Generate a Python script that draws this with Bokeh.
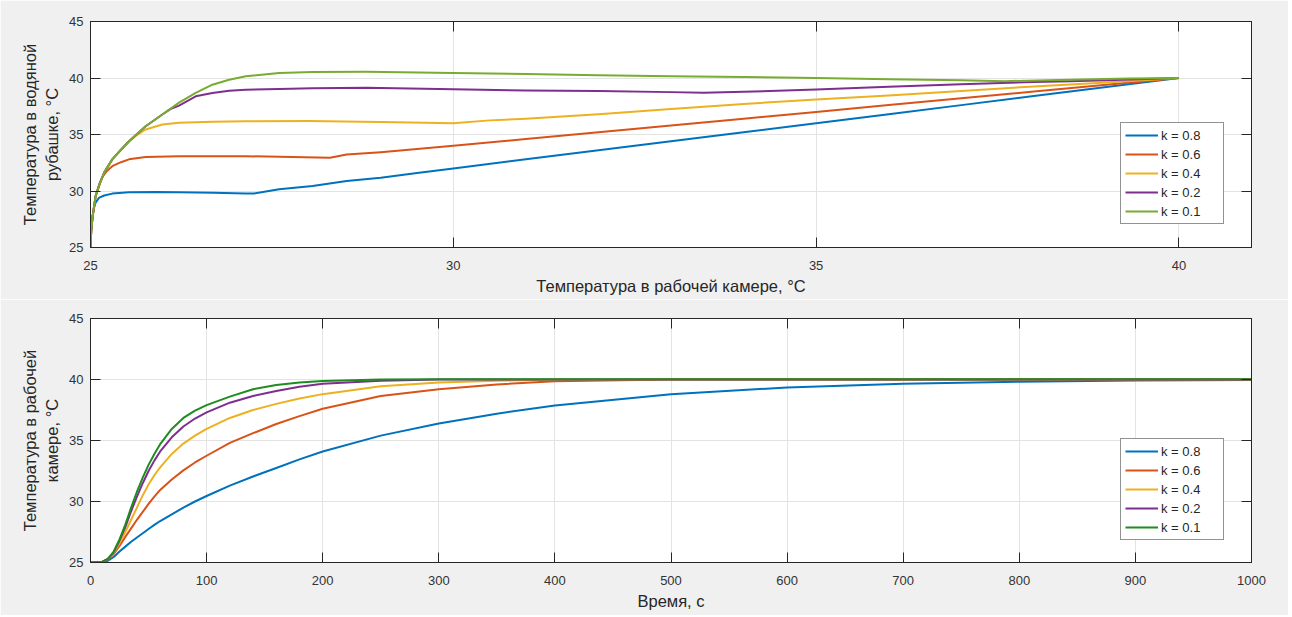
from bokeh.plotting import figure
from bokeh.models import LinearAxis, Legend, LegendItem, FixedTicker
from bokeh.layouts import column
from bokeh.embed import file_html
from bokeh.resources import INLINE

# ---------------- data ----------------
labels = ["k = 0.8", "k = 0.6", "k = 0.4", "k = 0.2", "k = 0.1"]
colors_top = ["#0072BD", "#D95319", "#EDB120", "#7E2F8E", "#77AC30"]
colors_bot = ["#0072BD", "#D95319", "#EDB120", "#7E2F8E", "#1E8C1E"]

# Top: jacket temperature vs chamber temperature
cam_k08 = [25, 25.01, 25.03, 25.05, 25.07, 25.12, 25.19, 25.3, 25.53, 25.9, 26.22, 26.7, 27.14, 27.25, 27.6, 28.06, 28.53, 29, 29.5, 30, 31, 32, 33, 34, 35, 36, 37, 38, 39, 40]
jak_k08 = [25, 26.5, 27.8, 28.55, 28.97, 29.41, 29.6, 29.77, 29.88, 29.92, 29.9, 29.85, 29.78, 29.77, 30.15, 30.44, 30.88, 31.18, 31.6, 32.0, 32.8, 33.6, 34.4, 35.2, 36.0, 36.8, 37.6, 38.4, 39.2, 40]

cam_k06 = [25, 25.01, 25.03, 25.07, 25.12, 25.17, 25.23, 25.3, 25.42, 25.53, 25.76, 26.22, 27.14, 28.3, 28.53, 29, 29.5, 30, 31, 32, 33, 34, 35, 36, 37, 38, 39, 40]
jak_k06 = [25, 26.5, 27.8, 29.5, 30.6, 31.3, 31.8, 32.2, 32.55, 32.8, 33.0, 33.08, 33.08, 32.94, 33.23, 33.44, 33.72, 34.0, 34.6, 35.2, 35.8, 36.4, 37.0, 37.6, 38.2, 38.8, 39.4, 40]

cam_k04 = [25, 25.01, 25.03, 25.07, 25.13, 25.19, 25.3, 25.42, 25.53, 25.64, 25.76, 25.99, 26.22, 26.68, 27.14, 28, 29, 30, 30.5, 31, 32, 33, 34, 35, 36, 37, 38, 39, 40]
jak_k04 = [25, 26.5, 27.8, 29.55, 30.7, 31.65, 32.8, 33.65, 34.35, 34.95, 35.44, 35.88, 36.03, 36.12, 36.17, 36.2, 36.1, 36.0, 36.25, 36.4, 36.8, 37.25, 37.7, 38.1, 38.45, 38.85, 39.25, 39.6, 40]

cam_k02 = [25, 25.01, 25.03, 25.07, 25.13, 25.19, 25.3, 25.42, 25.53, 25.76, 25.99, 26.1, 26.22, 26.45, 26.68, 26.91, 27.14, 27.6, 28.06, 28.8, 30, 31, 32, 33, 33.45, 34, 35, 36, 37, 38, 38.5, 39, 40]
jak_k02 = [25, 26.5, 27.8, 29.55, 30.7, 31.65, 32.8, 33.65, 34.4, 35.73, 36.77, 37.25, 37.56, 38.38, 38.68, 38.88, 38.97, 39.03, 39.1, 39.13, 39.0, 38.9, 38.85, 38.75, 38.7, 38.78, 38.98, 39.22, 39.45, 39.65, 39.72, 39.8, 40]

cam_k01 = [25, 25.01, 25.03, 25.07, 25.13, 25.19, 25.3, 25.42, 25.53, 25.76, 25.99, 26.22, 26.45, 26.68, 26.91, 27.14, 27.6, 28.06, 28.8, 30, 31, 32, 33, 34, 35, 36, 37, 37.6, 38.5, 39.3, 40]
jak_k01 = [25, 26.5, 27.8, 29.55, 30.7, 31.65, 32.8, 33.65, 34.4, 35.73, 36.77, 37.82, 38.68, 39.41, 39.85, 40.15, 40.45, 40.53, 40.55, 40.45, 40.35, 40.25, 40.15, 40.08, 40.0, 39.9, 39.8, 39.72, 39.85, 39.95, 40]

# Bottom: chamber temperature vs time
time_s = [0, 10, 15, 20, 25, 30, 35, 40, 45, 50, 55, 60, 70, 80, 90, 100, 120, 140, 160, 180, 200, 250, 300, 350, 400, 500, 600, 700, 800, 900, 1000]
tc_k08 = [25, 25.03, 25.15, 25.45, 25.9, 26.3, 26.7, 27.05, 27.4, 27.75, 28.08, 28.4, 28.95, 29.5, 30.0, 30.45, 31.3, 32.05, 32.75, 33.45, 34.1, 35.4, 36.4, 37.2, 37.87, 38.8, 39.35, 39.65, 39.82, 39.92, 39.96]
tc_k06 = [25, 25.05, 25.25, 25.7, 26.35, 27.1, 27.8, 28.5, 29.15, 29.8, 30.4, 30.95, 31.8, 32.55, 33.2, 33.75, 34.8, 35.6, 36.35, 37.0, 37.6, 38.65, 39.2, 39.6, 39.85, 40.0, 40.0, 40.0, 40.0, 40.0, 40.0]
tc_k04 = [25, 25.05, 25.28, 25.8, 26.6, 27.5, 28.5, 29.5, 30.5, 31.4, 32.15, 32.8, 33.9, 34.75, 35.4, 35.95, 36.85, 37.5, 38.0, 38.45, 38.8, 39.45, 39.75, 39.9, 39.97, 40.0, 40.0, 40.0, 40.0, 40.0, 40.0]
tc_k02 = [25, 25.05, 25.3, 25.85, 26.8, 27.9, 29.2, 30.4, 31.5, 32.5, 33.35, 34.1, 35.26, 36.15, 36.8, 37.3, 38.1, 38.65, 39.05, 39.4, 39.65, 39.9, 40.0, 40.0, 40.0, 40.0, 40.0, 40.0, 40.0, 40.0, 40.0]
tc_k01 = [25, 25.05, 25.3, 25.9, 26.9, 28.1, 29.5, 30.8, 31.95, 33.0, 33.9, 34.7, 35.95, 36.85, 37.45, 37.9, 38.6, 39.2, 39.55, 39.75, 39.88, 40.0, 40.03, 40.03, 40.03, 40.03, 40.03, 40.03, 40.03, 40.03, 40.03]

top_x_ticks = [25, 30, 35, 40]
top_y_ticks = [25, 30, 35, 40, 45]
bot_x_ticks = [0, 100, 200, 300, 400, 500, 600, 700, 800, 900, 1000]
bot_y_ticks = [25, 30, 35, 40, 45]

top_xlabel = "Температура в рабочей камере, °C"
top_ylabel = "Температура в водяной\nрубашке, °C"
bot_xlabel = "Время, с"
bot_ylabel = "Температура в рабочей\nкамере, °C"

FONT = "Liberation Sans"
AX = "#262626"
BG = "#f0f0f0"
GRID = "#e3e3e3"


def style(p, xticks, yticks):
    p.border_fill_color = BG
    p.background_fill_color = "white"
    p.outline_line_color = AX
    p.outline_line_width = 1
    for ax in [p.xaxis[0], p.yaxis[0]]:
        ax.axis_line_color = AX
        ax.major_tick_line_color = AX
        ax.major_tick_in = 10
        ax.major_tick_out = 0
        ax.minor_tick_line_color = None
        ax.major_label_text_font = FONT
        ax.major_label_text_font_size = "13px"
        ax.major_label_text_color = "#333333"
        ax.axis_label_text_font = FONT
        ax.axis_label_text_font_size = "16.5px"
        ax.axis_label_text_font_style = "normal"
        ax.axis_label_text_color = AX
    p.xaxis[0].ticker = FixedTicker(ticks=xticks)
    p.yaxis[0].ticker = FixedTicker(ticks=yticks)
    p.xaxis[0].major_label_standoff = 13
    p.xaxis[0].axis_label_standoff = 4
    p.yaxis[0].major_label_standoff = 7
    p.yaxis[0].axis_label_standoff = 5
    # box axes (top / right) with ticks only
    top = LinearAxis(ticker=FixedTicker(ticks=xticks),
                     major_label_overrides={t: "" for t in xticks})
    right = LinearAxis(ticker=FixedTicker(ticks=yticks),
                       major_label_overrides={t: "" for t in yticks})
    for ax in (top, right):
        ax.axis_line_color = AX
        ax.major_tick_line_color = AX
        ax.major_tick_in = 10
        ax.major_tick_out = 0
        ax.minor_tick_line_color = None
        ax.major_label_standoff = 0
    p.add_layout(top, "above")
    p.add_layout(right, "right")
    p.xgrid[0].ticker = FixedTicker(ticks=xticks)
    p.ygrid[0].ticker = FixedTicker(ticks=yticks)
    for g in (p.xgrid[0], p.ygrid[0]):
        g.grid_line_color = GRID
        g.grid_line_width = 1


def add_legend(p, renderers, loc):
    items = [LegendItem(label=l, renderers=[r]) for l, r in zip(labels, renderers)]
    lg = Legend(items=items, location=loc)
    lg.label_text_font = FONT
    lg.label_text_font_size = "13px"
    lg.label_text_color = AX
    lg.glyph_width = 33
    lg.glyph_height = 16
    lg.label_height = 16
    lg.label_width = 58
    lg.label_standoff = 3
    lg.spacing = 3
    lg.padding = 4
    lg.margin = 0
    lg.border_line_color = AX
    lg.border_line_width = 1
    lg.background_fill_color = "white"
    lg.background_fill_alpha = 1
    p.add_layout(lg, "center")


# ---------------- top figure ----------------
p1 = figure(width=1288, height=299, x_range=(25, 41), y_range=(25, 45),
            output_backend="svg", toolbar_location=None,
            min_border_left=90, min_border_right=37, min_border_top=21, min_border_bottom=52,
            x_axis_label=top_xlabel, y_axis_label=top_ylabel)
style(p1, top_x_ticks, top_y_ticks)
top_series = [(cam_k08, jak_k08), (cam_k06, jak_k06), (cam_k04, jak_k04),
              (cam_k02, jak_k02), (cam_k01, jak_k01)]
r1 = []
for (xs, ys), c in zip(top_series, colors_top):
    r1.append(p1.line(xs, ys, line_color=c, line_width=2, line_join="round"))
add_legend(p1, r1, (1030, 23))

# ---------------- bottom figure ----------------
p2 = figure(width=1288, height=316, x_range=(0, 1000), y_range=(25, 45),
            output_backend="svg", toolbar_location=None,
            min_border_left=90, min_border_right=37, min_border_top=19, min_border_bottom=53,
            x_axis_label=bot_xlabel, y_axis_label=bot_ylabel)
style(p2, bot_x_ticks, bot_y_ticks)
bot_series = [tc_k08, tc_k06, tc_k04, tc_k02, tc_k01]
r2 = []
for ys, c in zip(bot_series, colors_bot):
    r2.append(p2.line(time_s, ys, line_color=c, line_width=2, line_join="round"))
add_legend(p2, r2, (1030, 22))

layout = column(p1, p2, spacing=0)
open("out.html", "w").write(file_html(layout, INLINE))
